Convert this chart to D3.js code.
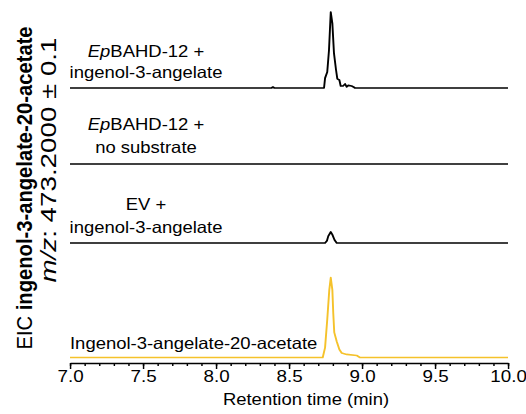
<!DOCTYPE html>
<html>
<head>
<meta charset="utf-8">
<script src="https://cdn.jsdelivr.net/npm/d3@7"></script>
<style>
  body { margin: 0; background: #fff; }
  text { font-family: "Liberation Sans", Arial, sans-serif; fill: #000; }
</style>
</head>
<body>
<div class="visArea"></div>
<script>
// Chromatogram data (retention time in min, relative intensity)
var timeBahd = [7.0, 8.38, 8.39, 8.40, 8.740, 8.747, 8.762, 8.774, 8.786, 8.797, 8.808, 8.822, 8.831, 8.845, 8.854, 8.870, 8.884, 8.895, 8.906, 8.929, 8.945, 8.952, 10.0];
var intBahd = [0, 0, 1.3, 0, 0, 13, 21, 50, 100, 85, 46, 24, 12, 10.5, 2.6, 2.6, 5.3, 1.5, 3.5, 2.6, 1, 0, 0];

var timeNoSub = [7.0, 10.0];
var intNoSub = [0, 0];

var timeEv = [7.0, 8.747, 8.760, 8.769, 8.786, 8.797, 8.812, 8.827, 10.0];
var intEv = [0, 0, 3, 9, 14.5, 11, 4, 0, 0];

var timeStd = [7.0, 8.731, 8.747, 8.762, 8.776, 8.786, 8.797, 8.803, 8.810, 8.827, 8.845, 8.861, 8.895, 8.964, 8.986, 10.0];
var intStd = [0, 0, 13, 50, 89, 105, 89, 59, 33, 21, 10.5, 6, 4, 2.6, 0, 0];

var majorTicks = [7.0, 7.5, 8.0, 8.5, 9.0, 9.5, 10.0];
var minorTicks = d3.range(70, 101).map(d => d / 10);

var sampleNames = [
  [[{t: "Ep", i: true}, {t: "BAHD-12 +"}], [{t: "ingenol-3-angelate"}]],
  [[{t: "Ep", i: true}, {t: "BAHD-12 +"}], [{t: "no substrate"}]],
  [[{t: "EV +"}], [{t: "ingenol-3-angelate"}]]
];
var standardName = "Ingenol-3-angelate-20-acetate";

// Set up size (the figure is a little stretched sideways, so scale x)
var width = 526;
var height = 414;
var sx = 1.12;
var vbWidth = width / sx;

var svg = d3.select('.visArea')
  .append('svg')
  .attr('width', width)
  .attr('height', height)
  .attr('viewBox', '0 0 ' + vbWidth + ' ' + height)
  .attr('preserveAspectRatio', 'none');

var x = d3.scaleLinear()
  .domain([7, 10])
  .range([70 / sx, 508 / sx]);

var y = d3.scaleLinear()
  .domain([0, 100])
  .range([0, 76]);

var baselines = [88, 164, 243, 357.5];
var traces = [
  {t: timeBahd, v: intBahd, color: '#000'},
  {t: timeNoSub, v: intNoSub, color: '#000'},
  {t: timeEv, v: intEv, color: '#000'},
  {t: timeStd, v: intStd, color: '#f5c22b'}
];

traces.forEach(function(tr, k) {
  var pts = tr.t.map((t, i) => [t, tr.v[i]]);
  var line = d3.line()
    .x(d => x(d[0]))
    .y(d => baselines[k] - y(d[1]));
  svg.append('path')
    .datum(pts)
    .attr('d', line)
    .attr('fill', 'none')
    .attr('stroke', tr.color)
    .attr('stroke-width', 1.7)
    .attr('stroke-linejoin', 'round');
});

// Sample labels
var labelX = 146 / sx;
var labelBase = [[57, 78], [130, 153], [210, 233]];
sampleNames.forEach(function(lines, k) {
  lines.forEach(function(parts, j) {
    var txt = svg.append('text')
      .attr('x', labelX)
      .attr('y', labelBase[k][j])
      .attr('text-anchor', 'middle')
      .style('font-size', '16.5px');
    parts.forEach(function(p) {
      txt.append('tspan')
        .style('font-style', p.i ? 'italic' : 'normal')
        .text(p.t);
    });
  });
});

svg.append('text')
  .attr('x', 70 / sx)
  .attr('y', 349)
  .style('font-size', '16.5px')
  .text(standardName);

// x axis: minor ticks then major ticks with labels
var axisY = 363;
svg.append('g')
  .attr('transform', 'translate(0,' + axisY + ')')
  .call(d3.axisBottom(x).tickValues(minorTicks).tickSize(3).tickSizeOuter(0).tickFormat(''))
  .call(g => g.select('.domain').attr('stroke-width', 1.6))
  .call(g => g.selectAll('.tick line').attr('stroke-width', 1.3));

var major = svg.append('g')
  .attr('transform', 'translate(0,' + axisY + ')')
  .call(d3.axisBottom(x).tickValues(majorTicks).tickSize(6).tickSizeOuter(0).tickPadding(1.3).tickFormat(d3.format('.1f')));
major.select('.domain').remove();
major.selectAll('.tick line').attr('stroke-width', 1.3);
major.selectAll('.tick text')
  .attr('fill', '#000')
  .style('font-family', '"Liberation Sans", Arial, sans-serif')
  .style('font-size', '16.8px');

svg.append('text')
  .attr('x', 306 / sx)
  .attr('y', 405)
  .attr('text-anchor', 'middle')
  .style('font-size', '16.5px')
  .text('Retention time (min)');

// y axis title, two rotated lines
var t1 = svg.append('text')
  .attr('transform', 'translate(' + (32 / sx) + ',188) rotate(-90)')
  .attr('text-anchor', 'middle')
  .style('font-size', '20.2px');
t1.append('tspan').text('EIC ');
t1.append('tspan').style('font-weight', 'bold').text('ingenol-3-angelate-20-acetate');

var t2 = svg.append('text')
  .attr('transform', 'translate(' + (56 / sx) + ',160) rotate(-90)')
  .attr('text-anchor', 'middle')
  .attr('textLength', 245)
  .attr('lengthAdjust', 'spacingAndGlyphs')
  .style('font-size', '19px');
t2.append('tspan').style('font-style', 'italic').text('m/z');
t2.append('tspan').text(': 473.2000 \u00b1 0.1');
</script>
</body>
</html>
